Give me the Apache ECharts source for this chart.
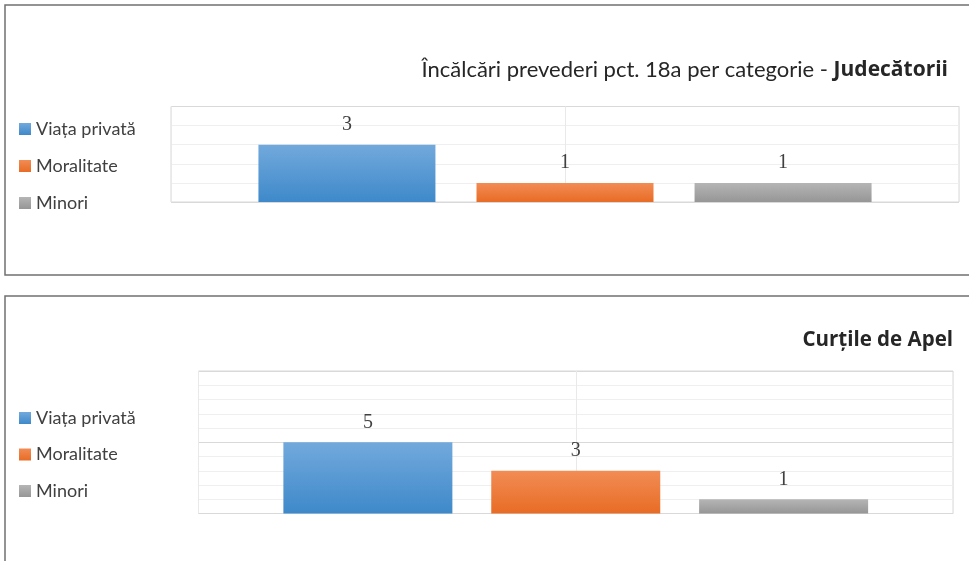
<!DOCTYPE html>
<html><head><meta charset="utf-8">
<script src="https://cdn.jsdelivr.net/npm/echarts@6/dist/echarts.min.js"></script>
<style>html,body{margin:0;padding:0;background:#fff}#c{width:969px;height:561px}</style>
</head><body><div id="c"></div>
<script>
const seriesNames = ['Viața privată', 'Moralitate', 'Minori'];
const category = [''];
const judecatoriiValues = [3, 1, 1];
const curtiValues = [5, 3, 1];
const titleRegular = 'Încălcări prevederi pct. 18a per categorie - ';
const titleBold = 'Judecătorii';
const title2 = 'Curțile de Apel';

const FONT = 'Lato';
const BFONT = 'Open Sans';
const chart = echarts.init(document.getElementById('c'), null, {renderer: 'canvas'});
function grad(a, b) {
  return new echarts.graphic.LinearGradient(0, 0, 0, 1, [{offset: 0, color: a}, {offset: 1, color: b}]);
}
const colors = [grad('#72a9dc', '#3e89ca'), grad('#f28c55', '#e86c25'), grad('#b5b5b5', '#969696')];

function yAx(gi, max) {
  return {
    type: 'value', gridIndex: gi, min: 0, max: max, interval: 5,
    axisLabel: {show: false}, axisLine: {show: false}, axisTick: {show: false},
    splitLine: {show: true, lineStyle: {color: '#d9d9d9', width: 1}},
    minorTick: {show: false, splitNumber: 5},
    minorSplitLine: {show: true, lineStyle: {color: '#efefef', width: 1}}
  };
}
function xCat(gi) {
  return {type: 'category', gridIndex: gi, data: category, axisLine: {show: false}, axisTick: {show: false}, axisLabel: {show: false}, splitLine: {show: false}};
}
function xVal(gi) {
  return {type: 'value', gridIndex: gi, min: 0, max: 2, interval: 1, axisLine: {show: false}, axisTick: {show: false}, axisLabel: {show: false},
    splitLine: {show: true, lineStyle: {color: '#e9e9e9', width: 1}}};
}
const series = [];
seriesNames.forEach((n, i) => {
  series.push({
    type: 'bar', name: n, xAxisIndex: 0, yAxisIndex: 0, data: [judecatoriiValues[i]],
    barWidth: 177, barGap: '23.2%', itemStyle: {color: colors[i]},
    label: {show: true, position: 'top', distance: 10, fontFamily: 'Liberation Serif', fontSize: 20, color: '#404040'}
  });
});
seriesNames.forEach((n, i) => {
  series.push({
    type: 'bar', name: n, xAxisIndex: 2, yAxisIndex: 1, data: [curtiValues[i]],
    barWidth: 169, barGap: '23%', itemStyle: {color: colors[i]},
    label: {show: true, position: 'top', distance: 10, fontFamily: 'Liberation Serif', fontSize: 20, color: '#404040'}
  });
});

const option = {
  animation: false,
  backgroundColor: '#ffffff',
  title: [
    {text: '{a|' + titleRegular + '}{b|' + titleBold + '}', right: 21, top: 59, padding: 0,
      textStyle: {fontWeight: 'normal', fontFamily: FONT, fontSize: 22, color: '#262626',
        rich: {a: {fontFamily: FONT, fontSize: 22, fontWeight: 'normal', color: '#262626'},
               b: {fontFamily: BFONT, fontSize: 21, fontWeight: 'bold', color: '#262626'}}}},
    {text: title2, right: 16, top: 330, padding: 0,
      textStyle: {fontFamily: BFONT, fontSize: 20.5, fontWeight: 'bold', color: '#262626'}}
  ],
  legend: [
    {data: seriesNames, orient: 'vertical', left: 19, top: 120, itemWidth: 12, itemHeight: 12, itemGap: 19, padding: 0,
      icon: 'rect', textStyle: {fontFamily: FONT, fontSize: 18, color: '#404040'}},
    {data: seriesNames, orient: 'vertical', left: 19, top: 409, itemWidth: 12, itemHeight: 12, itemGap: 18.5, padding: 0,
      icon: 'rect', textStyle: {fontFamily: FONT, fontSize: 18, color: '#404040'}}
  ],
  grid: [
    {left: 171, top: 106.5, width: 788, height: 95.5, show: true, borderColor: '#d9d9d9', borderWidth: 1, containLabel: false},
    {left: 198.5, top: 371, width: 754.5, height: 142.5, show: true, borderColor: '#d9d9d9', borderWidth: 1, containLabel: false}
  ],
  xAxis: [xCat(0), xVal(0), xCat(1), xVal(1)],
  yAxis: [yAx(0, 5), yAx(1, 10)],
  graphic: [
    {type: 'polyline', silent: true, shape: {points: [[969, 5], [5, 5], [5, 275], [969, 275]]}, style: {stroke: '#707070', lineWidth: 1.5, fill: null}},
    {type: 'polyline', silent: true, shape: {points: [[969, 296], [5, 296], [5, 565]]}, style: {stroke: '#707070', lineWidth: 1.5, fill: null}}
  ],
  series: series
};
chart.setOption(option);
</script>
</body></html>
